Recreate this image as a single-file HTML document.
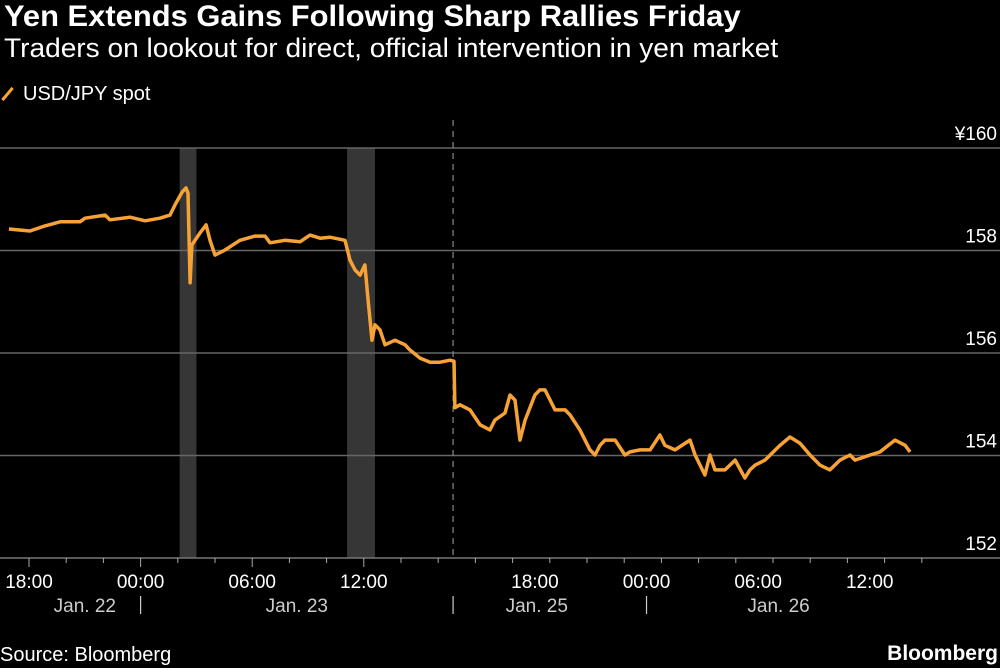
<!DOCTYPE html>
<html><head><meta charset="utf-8">
<style>
body{margin:0;background:#000;width:1000px;height:668px;overflow:hidden;font-family:"Liberation Sans",sans-serif;color:#fff}
.t{position:absolute;white-space:nowrap}
</style></head><body>
<div class="t" style="left:4px;top:0px;font-size:30px;font-weight:bold;transform:scaleX(1.03);transform-origin:left">Yen Extends Gains Following Sharp Rallies Friday</div>
<div class="t" style="left:4px;top:33px;font-size:27px;transform:scaleX(1.04);transform-origin:left">Traders on lookout for direct, official intervention in yen market</div>
<div class="t" style="left:6px;top:83px;font-size:20px"><span style="display:inline-block;width:3px;height:16px;background:#f7a234;transform:rotate(40deg);margin-right:14px;vertical-align:-2px"></span>USD/JPY spot</div>
<div class="t" style="left:0;top:644px;font-size:20px">Source: Bloomberg</div>
<div class="t" style="right:2px;top:642px;font-size:21px;font-weight:bold">Bloomberg</div>
<svg id="c" width="1000" height="668" style="position:absolute;left:0;top:0"></svg>
<script>
const times=[-1.08,0.05,0.86,1.67,2.74,3.01,4.09,4.35,5.43,6.24,7.04,7.58,7.85,8.23,8.44,8.55,8.66,8.76,9.19,9.52,9.73,10.0,10.54,11.34,12.15,12.69,12.96,13.76,14.57,15.11,15.65,16.18,16.99,17.26,17.53,17.80,18.06,18.23,18.44,18.60,18.87,19.14,19.68,20.22,20.48,21.02,21.56,22.10,22.63,22.85,22.90,23.17,23.71,24.25,24.78,25.05,25.59,25.86,26.13,26.40,26.67,27.20,27.47,27.74,28.28,28.82,29.09,29.62,30.16,30.43,30.70,30.97,31.51,32.04,32.31,32.85,33.39,33.92,34.19,34.73,35.54,35.81,36.34,36.61,36.88,37.42,37.96,38.49,38.76,39.03,39.57,40.38,40.91,41.45,41.99,42.53,43.06,43.60,44.14,44.41,45.22,45.75,46.56,47.10,47.37];
const prices=[158.42,158.38,158.48,158.56,158.56,158.63,158.69,158.60,158.65,158.58,158.63,158.69,158.89,159.14,159.22,159.12,157.37,158.11,158.34,158.50,158.20,157.91,158.01,158.20,158.28,158.28,158.15,158.20,158.17,158.30,158.24,158.26,158.20,157.81,157.62,157.52,157.72,157.03,156.25,156.55,156.45,156.16,156.25,156.16,156.06,155.90,155.82,155.82,155.86,155.84,154.93,154.99,154.89,154.60,154.50,154.69,154.83,155.18,155.08,154.30,154.69,155.18,155.28,155.28,154.89,154.89,154.79,154.50,154.11,154.01,154.20,154.30,154.30,154.01,154.07,154.11,154.11,154.40,154.20,154.11,154.30,154.01,153.62,154.01,153.72,153.72,153.91,153.56,153.72,153.81,153.91,154.20,154.36,154.24,154.01,153.81,153.72,153.91,154.01,153.91,154.01,154.07,154.30,154.20,154.07];
const yTicks=[160,158,156,154,152];
const yLabels=["¥160","158","156","154","152"];
const xTickTimes=[0,6,12,18,27.2,33.2,39.2,45.2];
const xTickLabels=["18:00","00:00","06:00","12:00","18:00","00:00","06:00","12:00"];
const dateLabels=["Jan. 22","Jan. 23","Jan. 25","Jan. 26"];
const dateCenters=[3,14.4,27.3,40.3];
const dateSeps=[6,22.8,33.2];
const bands=[[8.1,9.0],[17.1,18.6]];
const gapTime=22.8;
const X=t=>29+t*18.6, Y=p=>148+(160-p)*51.25;
const svg=document.getElementById('c'),NS='http://www.w3.org/2000/svg';
function mk(tag,a,parent){const e=document.createElementNS(NS,tag);for(const k in a)e.setAttribute(k,a[k]);(parent||svg).appendChild(e);return e;}
bands.forEach(b=>{const r=mk('rect',{x:X(b[0]),y:148,width:X(b[1])-X(b[0]),height:Y(152)-148,fill:'#363636'});

});
yTicks.forEach((v,i)=>{const l=mk('line',{x1:0,x2:1000,y1:Y(v),y2:Y(v),stroke:i==4?'#777':'#666','stroke-width':1.5});


const t=mk('text',{x:997,y:Y(v)-8,'text-anchor':'end',fill:'#fff','font-size':19,'font-family':'Liberation Sans'});t.textContent=yLabels[i];

});
const d=mk('line',{x1:X(gapTime),x2:X(gapTime),y1:120,y2:Y(152),stroke:'#888','stroke-dasharray':'6,5','stroke-width':1.2});


for(let t=-2;t<=48;t+=2){const maj=xTickTimes.some(m=>Math.abs(m-t)<0.3);
const tk=mk('line',{x1:X(t),x2:X(t),y1:Y(152),y2:Y(152)+(maj?9:5),stroke:'#aaa','stroke-width':1});

}
xTickTimes.forEach((t,i)=>{const e=mk('text',{x:X(t),y:588,'text-anchor':'middle',fill:'#fff','font-size':19,'font-family':'Liberation Sans'});e.textContent=xTickLabels[i];

});
dateLabels.forEach((s,i)=>{const e=mk('text',{x:X(dateCenters[i]),y:612,'text-anchor':'middle',fill:'#ccc','font-size':19,'font-family':'Liberation Sans'});e.textContent=s;

});
dateSeps.forEach(t=>{const l=mk('line',{x1:X(t),x2:X(t),y1:596,y2:614,stroke:'#ccc','stroke-width':1.2});

});
const pts=times.map((t,i)=>X(t).toFixed(1)+','+Y(prices[i]).toFixed(1)).join(' ');
const pl=mk('polyline',{points:pts,fill:'none',stroke:'#f7a234','stroke-width':3.5,'stroke-linejoin':'round'});


</script>
</body></html>
